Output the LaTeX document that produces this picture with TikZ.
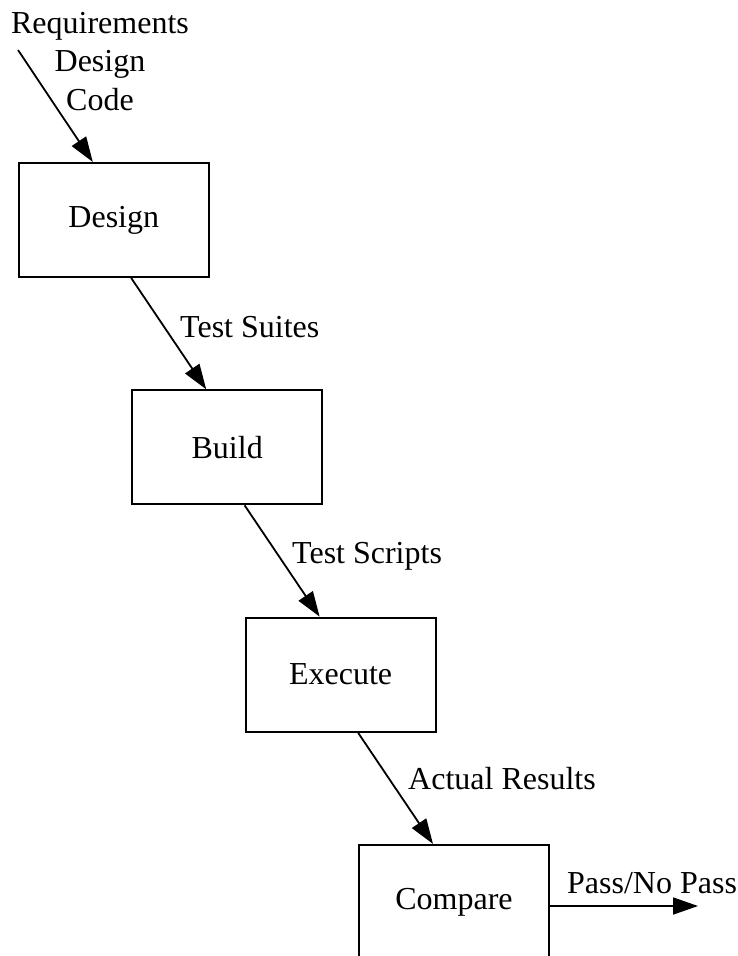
\documentclass[tikz,border=0pt]{standalone}
\usepackage{fontspec}
\setmainfont{Liberation Serif}
\usetikzlibrary{arrows.meta,calc}

\tikzset{
  stage/.style={draw, line width=2pt, minimum width=190pt, minimum height=114pt,
                inner sep=0pt, font=\fontsize{32}{38.5}\selectfont},
  flow/.style={line width=1.8pt, -{Triangle[length=25pt,width=17pt]}},
  flowlabel/.style={anchor=base west, inner sep=0pt, font=\fontsize{32}{38.5}\selectfont}
}

\begin{document}
\begin{tikzpicture}[x=1pt,y=-1pt]
  \useasboundingbox (0,0) rectangle (738,956);
  \clip (0,0) rectangle (738,956);

  % process stages
  \node[stage] (design)  at (113.8,220)  {Design};
  \node[stage] (build)   at (227.2,447.3) {Build};
  \node[stage] (execute) at (340.6,674.6) {Execute};
  \node[stage] (compare) at (454,901.9)  {Compare};

  % incoming documents (anchored on the baseline of the last line)
  \node[anchor=base, align=center, inner sep=0pt,
        font=\fontsize{32}{38.5}\selectfont] (inputs) at (100,110)
        {Requirements\\Design\\Code};
  \coordinate (src) at (18,50);
  \draw[flow] (src) -- ($(design.north west)+(75,0)$);

  % stage-to-stage flows
  \draw[flow] (build.north west |- design.south) -- ($(build.north west)+(75,0)$);
  \node[flowlabel] (l1) at (180,337) {Test Suites};

  \draw[flow] (execute.north west |- build.south) -- ($(execute.north west)+(75,0)$);
  \node[flowlabel] (l2) at (292,563) {Test Scripts};

  \draw[flow] (compare.north west |- execute.south) -- ($(compare.north west)+(75,0)$);
  \node[flowlabel] (l3) at (408,789) {Actual Results};

  % outcome
  \coordinate (result) at (698,906);
  \draw[flow] (compare.east |- result) -- (result);
  \node[flowlabel] (l4) at (567,893) {Pass/No Pass};
\end{tikzpicture}
\end{document}
